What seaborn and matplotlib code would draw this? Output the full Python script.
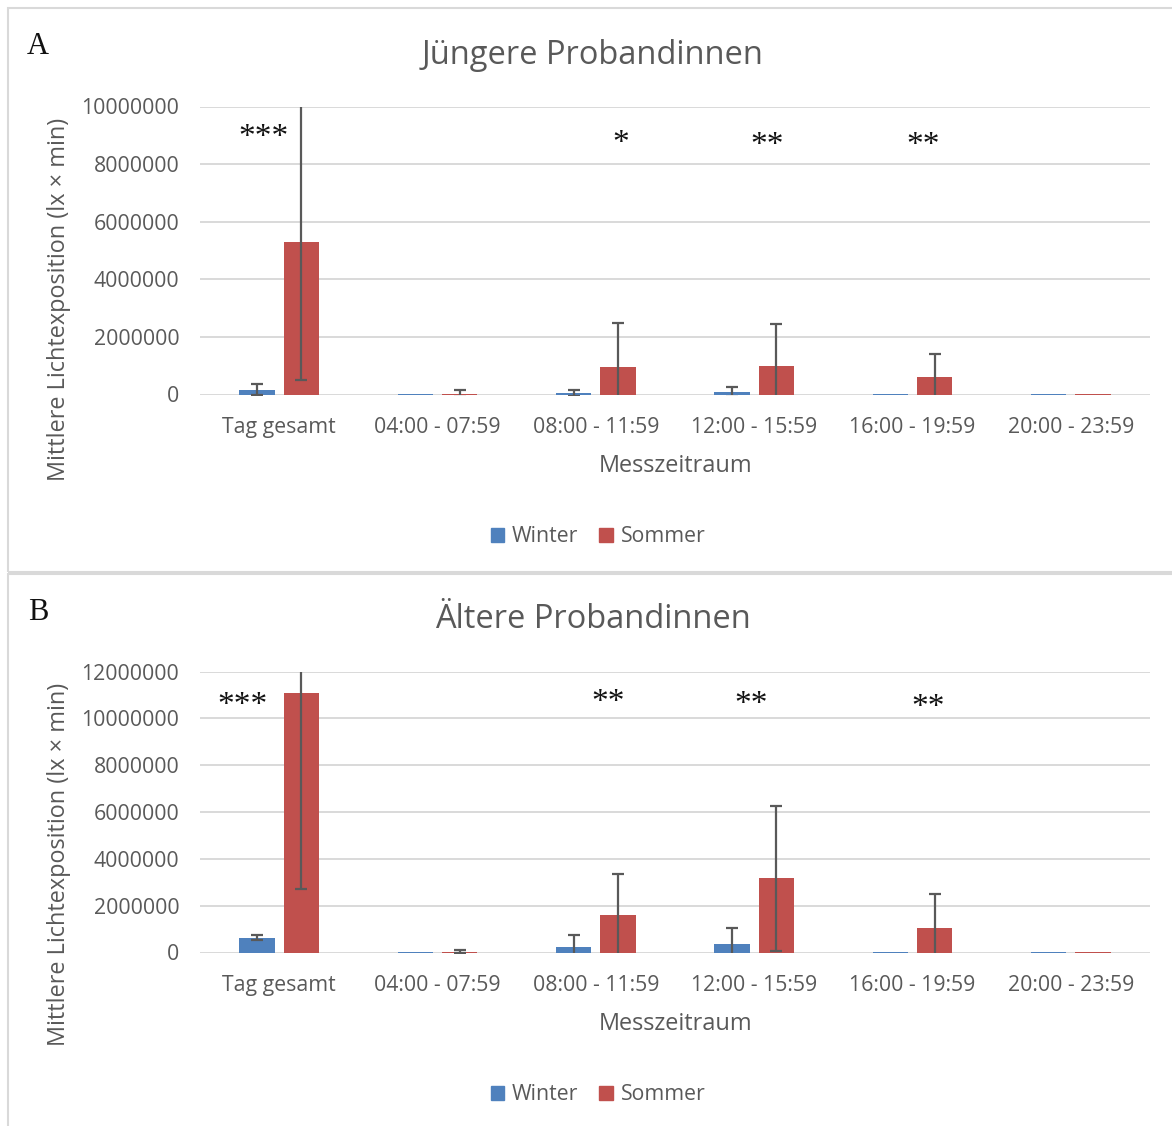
import matplotlib.pyplot as plt
import matplotlib.patches as mpatches
import pandas as pd
import seaborn as sns

CATEGORIES = ["Tag gesamt", "04:00 - 07:59", "08:00 - 11:59", "12:00 - 15:59", "16:00 - 19:59", "20:00 - 23:59"]
SEASONS = ["Winter", "Sommer"]

# Panel A - juengere Probandinnen
YOUNG_WINTER = [170000, 4000, 40000, 80000, 10000, 5000]
YOUNG_WINTER_ERR = [200000, 0, 100000, 170000, 0, 0]
YOUNG_SUMMER = [5280000, 20000, 940000, 990000, 610000, 3000]
YOUNG_SUMMER_ERR = [4790000, 120000, 1540000, 1460000, 780000, 0]
YOUNG_STARS = ["***", "", "*", "**", "**", ""]
YOUNG_STAR_X = [-0.10, 0, 2.16, 3.08, 4.07, 0]
YOUNG_STAR_Y = [8930000, 0, 8720000, 8650000, 8650000, 0]

# Panel B - aeltere Probandinnen
OLD_WINTER = [640000, 8000, 240000, 360000, 10000, 8000]
OLD_WINTER_ERR = [120000, 0, 500000, 670000, 0, 0]
OLD_SUMMER = [11100000, 30000, 1590000, 3170000, 1050000, 10000]
OLD_SUMMER_ERR = [8400000, 60000, 1770000, 3100000, 1460000, 0]
OLD_STARS = ["***", "", "**", "**", "**", ""]
OLD_STAR_X = [-0.23, 0, 2.08, 2.98, 4.10, 0]
OLD_STAR_Y = [10550000, 0, 10680000, 10600000, 10470000, 0]

COLORS = {"Winter": "#4F81BD", "Sommer": "#C0504D"}
TEXT_COLOR = "#595959"
GRID_COLOR = "#D9D9D9"
W, H = 1172, 1126


def draw_panel(ax, winter, winter_err, summer, summer_err, ymax, stars, star_x, star_y):
    df = pd.DataFrame(
        {
            "period": CATEGORIES * 2,
            "season": ["Winter"] * len(CATEGORIES) + ["Sommer"] * len(CATEGORIES),
            "value": list(winter) + list(summer),
        }
    )
    sns.barplot(
        data=df, x="period", y="value", hue="season", hue_order=SEASONS, order=CATEGORIES,
        palette=COLORS, saturation=1, width=0.56, gap=0.2, errorbar=None, linewidth=0, ax=ax, legend=False,
    )
    for container, errs in zip(ax.containers, [winter_err, summer_err]):
        pts = [(p.get_x() + p.get_width() / 2, p.get_height(), e) for p, e in zip(container, errs) if e > 0]
        xs, ys, es = zip(*pts)
        ax.errorbar(xs, ys, yerr=es, fmt="none", ecolor=TEXT_COLOR, elinewidth=1.6, capsize=4, capthick=1.6)
    for s, sx, sy in zip(stars, star_x, star_y):
        if s:
            ax.text(sx, sy, s, ha="center", va="center", fontsize=24, family=["Liberation Serif"], color="#111111")
    ax.set_xlim(-0.5, len(CATEGORIES) - 0.5)
    ax.set_ylim(0, ymax)
    ax.set_yticks(range(0, ymax + 1, 2000000))
    ax.set_yticklabels([str(v) for v in range(0, ymax + 1, 2000000)])
    ax.yaxis.grid(True, color=GRID_COLOR, linewidth=1.4)
    ax.set_axisbelow(True)
    for spine in ax.spines.values():
        spine.set_visible(False)
    ax.tick_params(axis="both", length=0, labelsize=15.3, colors=TEXT_COLOR)
    ax.tick_params(axis="y", pad=15)
    ax.tick_params(axis="x", pad=16)
    ax.set_xlabel("")
    ax.set_ylabel("")


sns.set_style("white")
plt.rcParams["font.family"] = ["Open Sans", "DejaVu Sans"]

fig = plt.figure(figsize=(W / 100, H / 100), dpi=100)

# panel frames
for top, bottom in [(8, 572), (574, 1130)]:
    fig.patches.append(
        mpatches.Rectangle(
            (8 / W, 1 - bottom / H), 1.2, (bottom - top) / H, transform=fig.transFigure,
            fill=False, edgecolor=GRID_COLOR, linewidth=1.5,
        )
    )

ax_a = fig.add_axes([200 / W, 1 - 394.5 / H, 950 / W, 288 / H])
draw_panel(ax_a, YOUNG_WINTER, YOUNG_WINTER_ERR, YOUNG_SUMMER, YOUNG_SUMMER_ERR, 10000000,
           YOUNG_STARS, YOUNG_STAR_X, YOUNG_STAR_Y)
ax_b = fig.add_axes([200 / W, 1 - 952.5 / H, 950 / W, 281 / H])
draw_panel(ax_b, OLD_WINTER, OLD_WINTER_ERR, OLD_SUMMER, OLD_SUMMER_ERR, 12000000,
           OLD_STARS, OLD_STAR_X, OLD_STAR_Y)

handles = [mpatches.Patch(color=COLORS[s], label=s) for s in SEASONS]
for letter, title, off, off2 in [("A", "Jüngere Probandinnen", 0, 0), ("B", "Ältere Probandinnen", 565, 558)]:
    fig.text(38 / W, 1 - (47 + off) / H, letter, ha="center", va="center", fontsize=22,
             family=["Liberation Serif"], color="#111111")
    fig.text(593 / W, 1 - (55 + off) / H, title, ha="center", va="center", fontsize=23.5, color=TEXT_COLOR)
    fig.text(676 / W, 1 - (466 + off2) / H, "Messzeitraum", ha="center", va="center", fontsize=16.9,
             color=TEXT_COLOR)
    fig.text(59 / W, 1 - (299 + off) / H, "Mittlere Lichtexposition (lx × min)", ha="center", va="center",
             rotation=90, fontsize=16.9, color=TEXT_COLOR)
    fig.legend(handles=handles, loc="center", bbox_to_anchor=(598 / W, 1 - (537 + off2) / H), ncol=2,
               frameon=False, fontsize=15.3, handlelength=0.65, handleheight=0.65, handletextpad=0.35,
               columnspacing=1.0, labelcolor=TEXT_COLOR)

fig.savefig("out.png", dpi=100, facecolor="w")
